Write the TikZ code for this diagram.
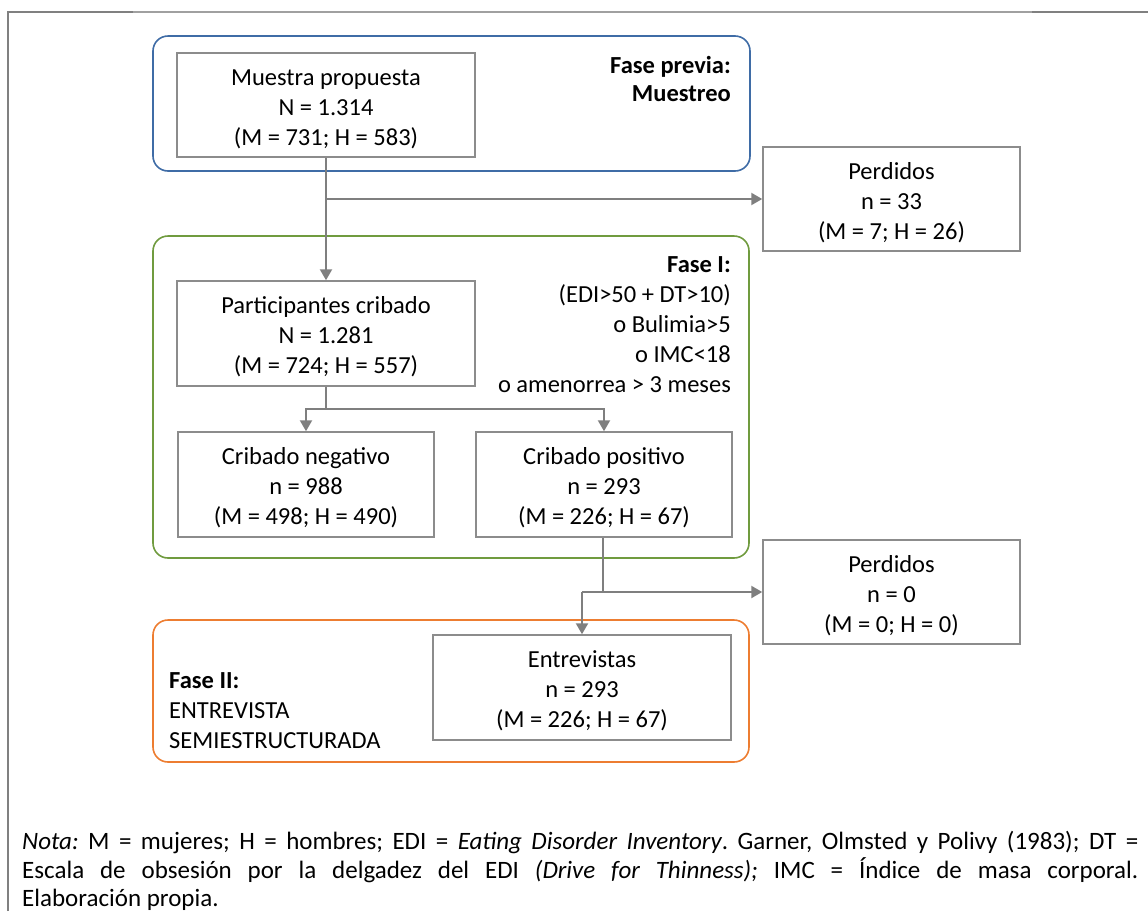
\documentclass[tikz,border=0pt]{standalone}
\usepackage{fontspec}
\setmainfont{Carlito}
\usetikzlibrary{arrows.meta}
\definecolor{boxgray}{HTML}{8C8C8C}
\definecolor{linegray}{HTML}{7F7F7F}
\definecolor{framegray}{HTML}{808080}
\definecolor{phaseblue}{HTML}{3F6CA6}
\definecolor{phasegreen}{HTML}{709B3F}
\definecolor{phaseorange}{HTML}{ED7D31}
% taller first line so the three-line box texts sit centred
\newcommand\firstlinestrut{\rule{0pt}{24pt}}
\tikzset{
  txt/.style={font=\fontsize{24.5}{30}\selectfont, inner sep=0pt},
  stagebox/.style={txt, draw=boxgray, line width=1.5pt, align=center,
    minimum height=105pt},
  phase/.style={rounded corners=15pt, line width=1.6pt},
  flow/.style={draw=linegray, line width=2.2pt,
    -{Triangle[length=11pt,width=12pt]}},
  link/.style={draw=linegray, line width=2.2pt},
}
\begin{document}
\begin{tikzpicture}[x=1pt,y=-1pt]
\useasboundingbox (0,0) rectangle (1148,911);

% outer frame
\draw[framegray, line width=2.2pt] (8,911) -- (8,12) -- (133,12);
\draw[framegray!75, line width=1.2pt] (133,12) -- (1032,12);
\draw[framegray, line width=2.2pt] (1032,12) -- (1148,12);

% phase panels
\draw[phase, draw=phaseblue] (153,36) rectangle (750,171);
\draw[phase, draw=phasegreen] (153,236) rectangle (749,558);
\draw[phase, draw=phaseorange] (153,620) rectangle (749,762);

% phase labels
\node[txt, align=right, anchor=north east, font=\bfseries\fontsize{24.5}{28}\selectfont]
  (lblprev) at (731,56) {Fase previa:\\Muestreo};
\node[txt, align=right, anchor=north east] (lblone) at (731,256)
  {\textbf{Fase I:}\\(EDI>50 + DT>10)\\o Bulimia>5\\o IMC<18\\o amenorrea > 3 meses};
\node[txt, align=left, anchor=west] (lbltwo) at (169,711)
  {\textbf{Fase II:}\\ENTREVISTA\\SEMIESTRUCTURADA};

% stage boxes
\node[stagebox, minimum width=298pt, minimum height=104pt] (muestra) at (326,105)
  {\firstlinestrut Muestra propuesta\\N = 1.314\\(M = 731; H = 583)};
\node[stagebox, minimum width=257pt, minimum height=104pt] (perd1) at (891.5,199)
  {\firstlinestrut Perdidos\\n = 33\\(M = 7; H = 26)};
\node[stagebox, minimum width=298pt] (part) at (326,333.5)
  {\firstlinestrut Participantes cribado\\N = 1.281\\(M = 724; H = 557)};
\node[stagebox, minimum width=256pt] (neg) at (306,484.5)
  {\firstlinestrut Cribado negativo\\n = 988\\(M = 498; H = 490)};
\node[stagebox, minimum width=256pt] (pos) at (604,484.5)
  {\firstlinestrut Cribado positivo\\n = 293\\(M = 226; H = 67)};
\node[stagebox, minimum width=257pt, minimum height=104pt] (perd2) at (891.5,592)
  {\firstlinestrut Perdidos\\n = 0\\(M = 0; H = 0)};
\node[stagebox, minimum width=298pt] (entr) at (582,687.5)
  {\firstlinestrut Entrevistas\\n = 293\\(M = 226; H = 67)};

% connectors
\coordinate (br1) at (326,199);
\draw[link] (muestra.south) -- (br1);
\draw[flow] (br1) -- (part.north);
\draw[flow] (br1) -- (perd1.west);

\coordinate (sp) at (326,409);
\draw[link] (part.south) -- (sp);
\draw[flow] (sp) -| (neg.north);
\draw[flow] (sp) -| (pos.north);

\coordinate (br2) at (603,592);
\coordinate (br2l) at (582,592);
\draw[link] (pos.south -| br2) -- (br2);
\draw[flow] (br2l) -- (perd2.west);
\draw[flow] (br2l) -- (entr.north);

% footnote
\node[txt, anchor=north west, text width=1116pt, align=justify,
  font=\fontsize{25}{28.5}\selectfont\frenchspacing] (nota) at (22,831)
  {\textit{Nota:} M = mujeres; H = hombres; EDI = \textit{Eating Disorder Inventory}. Garner, Olmsted y Polivy (1983); DT =\linebreak
  Escala de obsesión por la delgadez del EDI \textit{(Drive for Thinness);} IMC = Índice de masa corporal.\linebreak
  Elaboración propia.};
\end{tikzpicture}
\end{document}
